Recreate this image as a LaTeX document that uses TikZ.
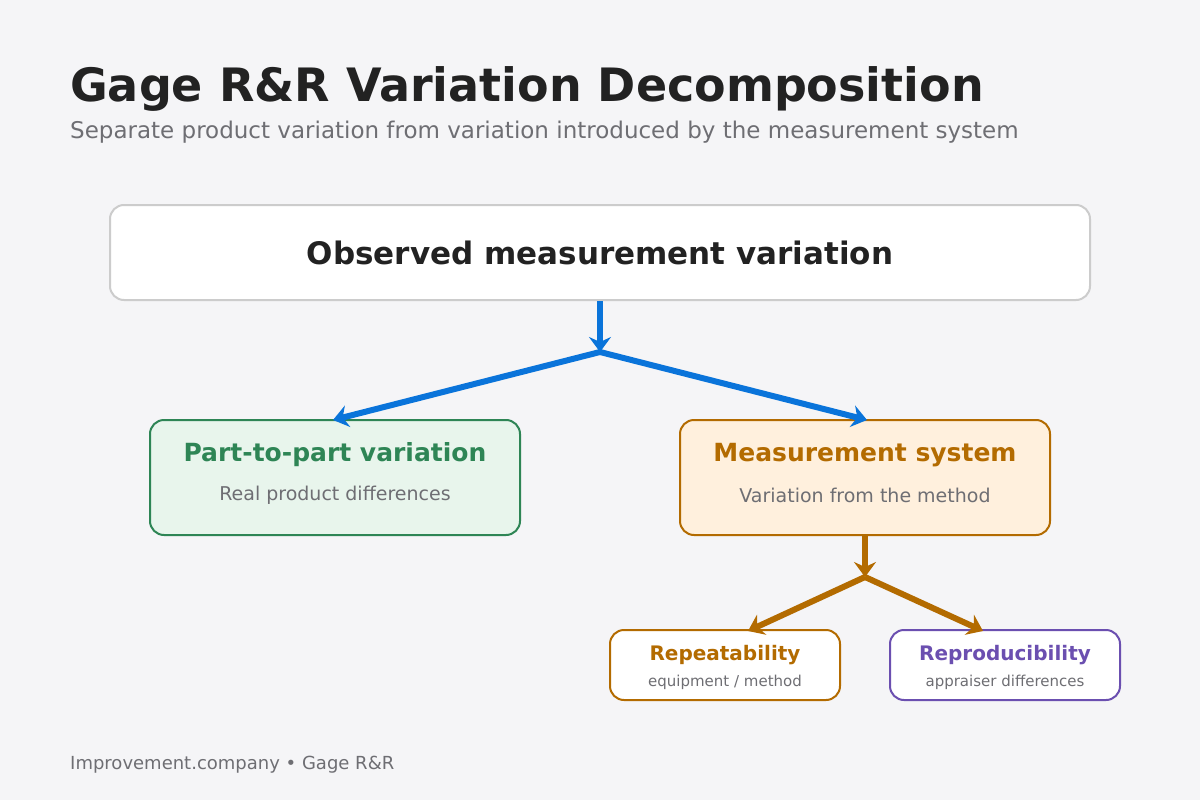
\documentclass[tikz,border=0pt]{standalone}
\usepackage{fontspec}
\setmainfont{DejaVu Sans}
\usetikzlibrary{arrows.meta,positioning}
\definecolor{bgcol}{HTML}{F5F5F7}
\definecolor{inkcol}{HTML}{222222}
\definecolor{graycol}{HTML}{6E6E73}
\definecolor{bluecol}{HTML}{0A74DA}
\definecolor{greencol}{HTML}{2E8555}
\definecolor{greenfill}{HTML}{E8F5EC}
\definecolor{orangecol}{HTML}{B36B00}
\definecolor{orangefill}{HTML}{FFF0DD}
\definecolor{purplecol}{HTML}{6B4FB0}

\tikzset{
    box/.style={draw, rounded corners=14pt, line width=2pt, inner sep=0pt},
    flow/.style={line width=6pt, -{Stealth[length=15pt,width=22pt,inset=5pt]}},
}
\newcommand{\fs}[1]{\fontsize{#1}{#1}\selectfont}

\begin{document}
\begin{tikzpicture}[x=1pt,y=-1pt]
    \fill [bgcol] (0,0) rectangle (1200,800);
    \useasboundingbox (0,0) rectangle (1200,800);

    % heading
    \node [anchor=base west, inner sep=0pt, text=inkcol, font=\fs{46}\bfseries] (title) at (70,102) {Gage R\&R Variation Decomposition};
    \node [anchor=base west, inner sep=0pt, text=graycol, font=\fs{23}] (subtitle) at (70,138) {Separate product variation from variation introduced by the measurement system};

    % boxes
    \node [box, draw=black!20, fill=white, minimum width=980pt, minimum height=95pt,
           text=inkcol, font=\fs{31}\bfseries] (observed) at (600,252.5) {Observed measurement variation};

    \node [box, draw=greencol, fill=greenfill, minimum width=370pt, minimum height=115pt] (part) at (335,477.5) {};
    \node [text=greencol, font=\fs{25}\bfseries] at (335,455) {Part-to-part variation};
    \node [text=graycol, font=\fs{19}] at (335,495) {Real product differences};

    \node [box, draw=orangecol, fill=orangefill, minimum width=370pt, minimum height=115pt] (msys) at (865,477.5) {};
    \node [text=orangecol, font=\fs{25}\bfseries] at (865,455) {Measurement system};
    \node [text=graycol, font=\fs{19}] at (865,495) {Variation from the method};

    \node [box, draw=orangecol, fill=white, minimum width=230pt, minimum height=70pt] (repeat) at (725,665) {};
    \node [text=orangecol, font=\fs{20}\bfseries] at (725,655) {Repeatability};
    \node [text=graycol, font=\fs{15}] at (725,682) {equipment / method};

    \node [box, draw=purplecol, fill=white, minimum width=230pt, minimum height=70pt] (reprod) at (1005,665) {};
    \node [text=purplecol, font=\fs{20}\bfseries] at (1005,655) {Reproducibility};
    \node [text=graycol, font=\fs{15}] at (1005,682) {appraiser differences};

    % connectors
    \coordinate (split) at (600,352);
    \coordinate (msplit) at (865,577);
    \draw [flow, bluecol] (observed.south) -- (split);
    \draw [flow, bluecol] (split) -- (333,420);
    \draw [flow, bluecol] (split) -- (867,420);
    \draw [flow, orangecol] (msys.south) -- (msplit);
    \draw [flow, orangecol] (msplit) -- (748,631);
    \draw [flow, orangecol] (msplit) -- (983,631);

    \node [anchor=base west, inner sep=0pt, text=graycol, font=\fs{18}] (footer) at (70,769) {Improvement.company • Gage R\&R};
\end{tikzpicture}
\end{document}
